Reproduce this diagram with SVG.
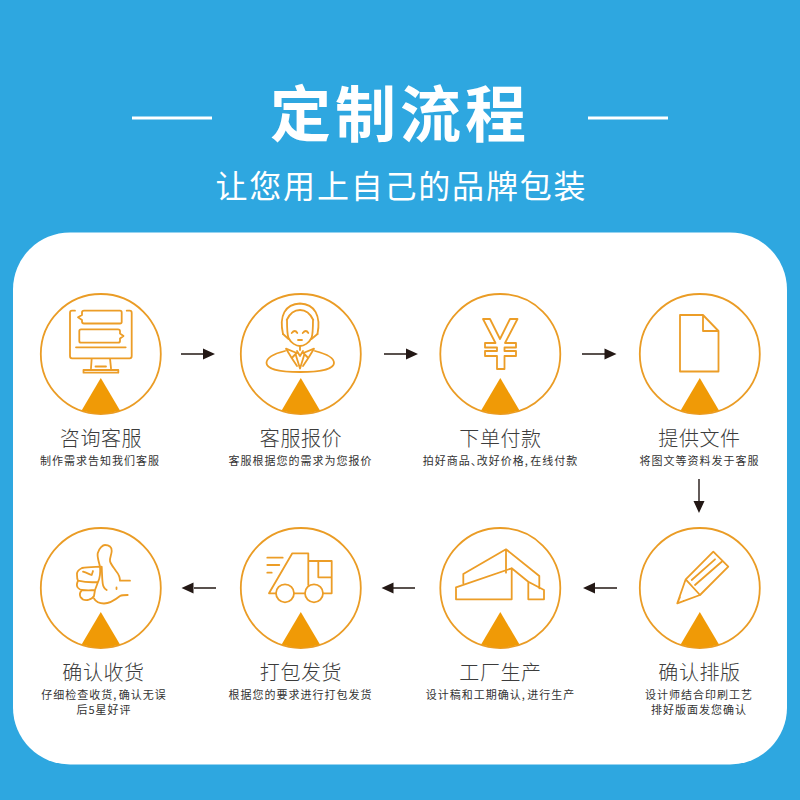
<svg xmlns="http://www.w3.org/2000/svg" width="800" height="800" viewBox="0 0 800 800">
<style>
.t{font-family:"Noto Sans CJK SC","Liberation Sans",sans-serif;text-anchor:middle}
.h{fill:#fff;font-weight:700;font-size:61px;letter-spacing:4px}
.s{fill:#fff;font-size:32px;letter-spacing:1.8px}
.n{fill:#3c3c3c;font-size:20px;letter-spacing:.6px;font-weight:300}
.d{fill:#333;font-size:11px;letter-spacing:1px}
.c{fill:none;stroke:#ea9c25;stroke-width:1.8}
.i{fill:none;stroke:#ec9d27;stroke-width:1.8;stroke-linejoin:round;stroke-linecap:round}
.tr{fill:#f09a06}
.a{fill:none;stroke:#231815;stroke-width:1.4}
.ah{fill:#231815}
</style>
<rect width="800" height="800" fill="#2ea7e0"/>
<rect x="13" y="232.500" width="774" height="532" rx="57" fill="#fff"/>
<g id="header">
<path d="M132 118H212M588 118H668" stroke="#fff" stroke-width="3"/>
<text class="t h" x="400" y="137">定制流程</text>
<text class="t s" x="401.400" y="198">让您用上自己的品牌包装</text>
</g>
<g id="connectors">
<path class="a" d="M181 354H204M384 354H407M582 354H605M699 479V502M617 588H595M415 588H393M216 588H194"/>
<path class="ah" d="M215 354L203 348.500V359.500ZM418 354L406 348.500V359.500ZM616.500 354L604.500 348.500V359.500ZM699 513L693.500 501H704.500ZM583 588L595 582.500V593.500ZM381.500 588L393.500 582.500V593.500ZM181.500 588L193.500 582.500V593.500Z"/>
</g>
<g id="n1">
<circle class="c" cx="100.800" cy="354" r="60"/>
<path class="tr" d="M100.800 378L120 410.500A61 61 0 0 1 81.600 410.500Z"/>
<path class="i" d="M75 310.700H72Q70 310.700 70 312.700V356Q70 358.300 72 358.300H129.700Q131.700 358.300 131.700 356V312.700Q131.700 310.700 129.700 310.700H126.700M76 347.300H125.700M91.700 358.300L91 368.300M110 358.300L111 368.300M95.500 366.500H106M83.500 370H118.300V372.700H83.500Z"/>
<path class="i" d="M84 310.700H120Q121.700 310.700 121.700 312.500V322Q121.700 323.500 120 323.500H84Q82 323.500 82 321.500V320L78 317.300L82 315V312.500Q82 310.700 84 310.700ZM81 329.300H118Q120 329.300 120 331V333.500L123.500 336L120 338.500V341Q120 342.700 118 342.700H81Q79.300 342.700 79.300 341V331Q79.300 329.300 81 329.300Z"/>
<text class="t n" x="101" y="446">咨询客服</text>
<text class="t d" x="100" y="465">制作需求告知我们客服</text>
</g>
<g id="n2">
<circle class="c" cx="300.800" cy="354" r="60"/>
<path class="tr" d="M300.800 378L320 410.500A61 61 0 0 1 281.600 410.500Z"/>
<path class="i" d="M283 334C279 316 285 304 300 303.500C315 304 321 316 317.500 334M286.700 320C290 313 295 310 300 310C305 310 310 313 313.300 320M287 320C287 328 287 334 288.500 338C291 343 296 346 300 346C304 346 309 343 311.500 338C313 334 313 328 313 320"/>
<path class="i" d="M283 334L288.500 339M317.500 334L311.500 339M291.700 333Q295 329 297.300 333M302.700 333Q306 329 308.300 333M298 340H302M300 346V350"/>
<path class="i" d="M285 351C273 354 266.500 358 266.500 363C266.500 369 280 372 300 372C320 372 334 369 334 363C334 358 327 354 315 351M286 348.700L296.700 353L291.700 358ZM314 348.700L303.300 353L308.300 358ZM295.500 354L300 368.500L304.500 354M291.700 358L297 366M308.300 358L303 366M297 351L300 356L303 351"/>
<text class="t n" x="301" y="446">客服报价</text>
<text class="t d" x="300.500" y="465">客服根据您的需求为您报价</text>
</g>
<g id="n3">
<circle class="c" cx="500.300" cy="354" r="60"/>
<path class="tr" d="M500.300 378L519.500 410.500A61 61 0 0 1 481.100 410.500Z"/>
<path class="i" d="M483 319H490L500 339L510 319H517.500L505 343H516V347.500H504.500V351H516V356H504.500V369H497V356H485V351H497V347.500H485V343H495.500Z"/>
<text class="t n" x="500.500" y="446">下单付款</text>
<text class="t d" x="500.500" y="465">拍好商品<tspan letter-spacing="-5">、</tspan>改好价格<tspan letter-spacing="2.500">,</tspan>在线付款</text>
</g>
<g id="n4">
<circle class="c" cx="699.800" cy="354" r="60"/>
<path class="tr" d="M699.800 378L719 410.500A61 61 0 0 1 680.600 410.500Z"/>
<path class="i" d="M680 315H703L718.500 331V371.500H680ZM703 315V331H718.500"/>
<text class="t n" x="699.500" y="446">提供文件</text>
<text class="t d" x="699.500" y="465">将图文等资料发于客服</text>
</g>
<g id="n5">
<circle class="c" cx="699.800" cy="588" r="60"/>
<path class="tr" d="M699.800 612L719 644.500A61 61 0 0 1 680.600 644.500Z"/>
<path class="i" d="M685.700 579.300L713.300 551.700L728.300 566.700L700 595L677.300 603.300ZM685.700 579.300L700 595M680 597L677.300 603.300L683.500 601M691.700 580L715 559.300M695 585L721.700 561.700"/>
<text class="t n" x="699.500" y="680">确认排版</text>
<text class="t d" x="699" y="699">设计师结合印刷工艺</text>
<text class="t d" x="699" y="714">排好版面发您确认</text>
</g>
<g id="n6">
<circle class="c" cx="500.300" cy="588" r="60"/>
<path class="tr" d="M500.300 612L519.500 644.500A61 61 0 0 1 481.100 644.500Z"/>
<path class="i" d="M463.300 583.300V574L506 549.300L539.300 576V588.300M506 549.300V572.700M456 587.300L511.700 568.300V599.300H456ZM511.700 568.300L528.300 581.700V599.300H544V590L528.300 581.700"/>
<text class="t n" x="500.500" y="680">工厂生产</text>
<text class="t d" x="500.500" y="699">设计稿和工期确认<tspan letter-spacing="2.500">,</tspan>进行生产</text>
</g>
<g id="n7">
<circle class="c" cx="300.800" cy="588" r="60"/>
<path class="tr" d="M300.800 612L320 644.500A61 61 0 0 1 281.600 644.500Z"/>
<path class="i" d="M276 593.300H269L292.300 553.300H308.300V561H331.700V593.300H323M308.300 561V585M318.300 561.700V577.300H331.700M294 593.300H305"/>
<circle class="i" cx="285" cy="593.300" r="9"/>
<circle class="i" cx="314" cy="593.300" r="9"/>
<path class="i" d="M267.300 557.700H282.700M267.300 565H279.300M267.300 572.700H271.700"/>
<text class="t n" x="301" y="680">打包发货</text>
<text class="t d" x="300.500" y="699">根据您的要求进行打包发货</text>
</g>
<g id="n8">
<circle class="c" cx="100.800" cy="588" r="60"/>
<path class="tr" d="M100.800 612L120 644.500A61 61 0 0 1 81.600 644.500Z"/>
<path class="i" d="M100 566.700C99 562 97 557 97.700 553.300C99 548 103 545 105 545C109 545 112 547 111.700 551C111.500 555 109.500 558 110 561C110.500 564 114 568 116 571C118.500 574 120 577 120 580.700H130"/>
<path class="i" d="M100 566.700C93 567 87 567 82 568C78 570 76.500 572 77 575C77 577 77 579 78 580.700C84 582 92 582.500 98 582C100 578 100.500 572 100 566.700ZM78 580.700C77 583 76.500 586 77.700 587.500C79 589 80 590 82 590C86 590.500 91 590.500 95 590L98 582M82 590C80 592 79.500 595 80.500 597C82 599.500 85 600.500 88 600C91 599 93 598 94 596L95 590"/>
<path class="i" d="M83 571.700C86 572.500 89 574 91.700 575L93 571M94 598.500C96 602 99 603.500 104 603.500C110 603.500 115 600 120 596C122 595 125 595 127.700 595M101.700 566.700C102 572 102 578 102.700 583.300C103 586 105 589 106.700 590M116.500 587.500V589"/>
<text class="t n" x="103.500" y="680">确认收货</text>
<text class="t d" x="104" y="699">仔细检查收货<tspan letter-spacing="2.500">,</tspan>确认无误</text>
<text class="t d" x="104" y="714">后5星好评</text>
</g>
</svg>
